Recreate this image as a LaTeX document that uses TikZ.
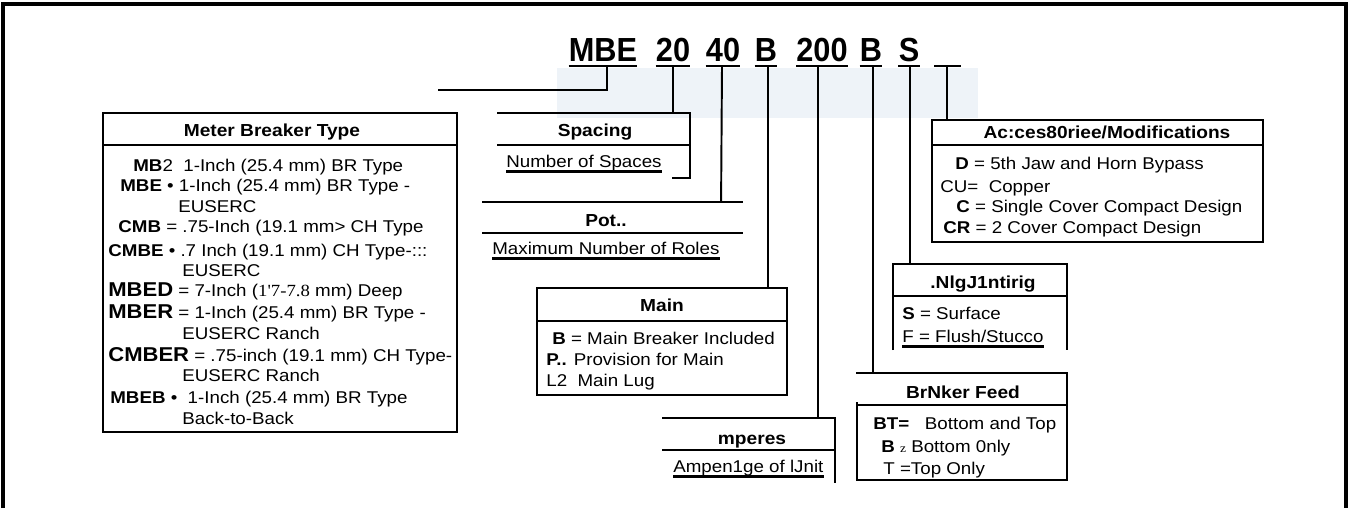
\documentclass[tikz,border=0pt]{standalone}
\usepackage{fontspec}
\setmainfont{Liberation Sans}[FakeStretch=1.1]
\setsansfont{Liberation Sans}[FakeStretch=1.1]
\newfontfamily\codefont{Liberation Sans}[FakeStretch=0.92]
\newfontfamily\serifbit{Liberation Serif}[FakeStretch=1.1]
\newcommand\bigkey[1]{{\fontsize{11.4}{12}\selectfont\bfseries #1}}
\definecolor{scanblue}{RGB}{238,243,248}

\begin{document}
\begin{tikzpicture}[x=0.02cm, y=-0.02cm,
		rule/.style={black, line width=1.3pt},
		lead/.style={black, line width=1.1pt},
		uline/.style={black, line width=1.7pt},
		code/.style={inner sep=0pt, anchor=base, font=\codefont\fontsize{19}{19}\selectfont\bfseries},
		head/.style={inner sep=0pt, anchor=base, font=\fontsize{9.9}{11}\selectfont\bfseries},
		entry/.style={inner sep=0pt, anchor=base west, font=\fontsize{9.7}{11}\selectfont}]
		\useasboundingbox (0,0) rectangle (1349,508);
		\fill[scanblue] (557,68) rectangle (978,118);
		\draw[black, line width=1.8pt] (3,508) -- (3,4) -- (1346,4) -- (1346,508);

		\node[code] (cMBE) at (603,61) {MBE};
		\node[code] (c20) at (673,61) {20};
		\node[code] (c40) at (723,61) {40};
		\node[code] (cMain) at (766,61) {B};
		\node[code] (c200) at (822,61) {200};
		\node[code] (cFeed) at (871,61) {B};
		\node[code] (cS) at (909,61) {S};
		\coordinate (cAcc) at (947,61);
		\foreach \c in {cMBE,c20,c40,cMain,c200,cFeed,cS}
			\draw[uline] ([shift={(0,5)}]\c.base west) -- ([shift={(0,5)}]\c.base east);
		\draw[uline] ([shift={(-13,5)}]cAcc) -- ([shift={(14,5)}]cAcc);

		\coordinate (mbtEnd) at (438,90);
		\coordinate (spcNE) at (690,113);
		\coordinate (potNE) at (743,202);
		\coordinate (mainNE) at (787,288);
		\coordinate (ampNE) at (835,418);
		\coordinate (feedNE) at (1067,373);
		\coordinate (mntNE) at (1067,264);
		\coordinate (accNE) at (1263,120);

		\draw[lead] ([shift={(4,5)}]cMBE.base) |- (mbtEnd);
		\draw[lead] ([shift={(0,5)}]c20.base) -- (c20.base |- spcNE);
		\draw[lead] ([shift={(-1,5)}]c40.base) -- ([xshift=-1\pgflinewidth]c40.base |- potNE);
		\draw[lead] ([shift={(2,5)}]cMain.base) -- ([shift={(2,0)}]cMain.base |- mainNE);
		\draw[lead] ([shift={(-4,5)}]c200.base) -- ([shift={(-4,0)}]c200.base |- ampNE);
		\draw[lead] ([shift={(2,5)}]cFeed.base) -- ([shift={(2,0)}]cFeed.base |- feedNE);
		\draw[lead] ([shift={(1,5)}]cS.base) -- ([shift={(1,0)}]cS.base |- mntNE);
		\draw[lead] ([shift={(0,5)}]cAcc) -- (cAcc |- accNE);

		% meter breaker type
		\draw[rule] (103,113) rectangle (457,432);
		\draw[rule] (103,145) -- (457,145);
		\node[head] (mbt) at (272,136) {Meter Breaker Type};
		\node[entry] (mb1) at (133,171) {\textbf{MB}2\ \ 1-Inch (25.4 mm) BR Type};
		\node[entry] (mb2) at (120,191) {\textbf{MBE} • 1-Inch (25.4 mm) BR Type -};
		\node[entry] (mb3) at (178,212) {EUSERC};
		\node[entry] (mb4) at (118,232) {\textbf{CMB} = .75-Inch (19.1 mm> CH Type};
		\node[entry] (mb5) at (108,256) {\textbf{CMBE} • .7 Inch (19.1 mm) CH Type-:::};
		\node[entry] (mb6) at (182,276) {EUSERC};
		\node[entry] (mb7) at (108,296) {\bigkey{MBED} = 7-Inch ({\serifbit 1'7-7.8} mm) Deep};
		\node[entry] (mb8) at (108,318) {\bigkey{MBER} = 1-Inch (25.4 mm) BR Type -};
		\node[entry] (mb9) at (182,339) {EUSERC Ranch};
		\node[entry] (mb10) at (108,361) {\bigkey{CMBER} = .75-inch (19.1 mm) CH Type-};
		\node[entry] (mb11) at (182,381) {EUSERC Ranch};
		\node[entry] (mb12) at (110,403) {\textbf{MBEB} •\ \ 1-Inch (25.4 mm) BR Type};
		\node[entry] (mb13) at (182,424) {Back-to-Back};

		% spacing and poles
		\draw[rule] (497,113) -- (spcNE) -- (690,178) -- (672,178);
		\draw[rule] (497,145) -- (690,145);
		\node[head] (spc) at (595,136) {Spacing};
		\node[entry] (spcTxt) at (506,167) {Number of Spaces};
		\draw[rule] (482,202) -- (potNE);
		\draw[rule] (482,233) -- (743,233);
		\node[head] (pot) at (606,226) {Pot..};
		\node[entry] (potTxt) at (492,254) {Maximum Number of Roles};

		% main
		\draw[rule] (537,288) rectangle (mainNE |- 0,395);
		\draw[rule] (537,321) -- (787,321);
		\node[head] (main) at (662,311) {Main};
		\node[entry] (mn1) at (552,344) {\textbf{B} =\ Main Breaker\ Included};
		\node[entry] (mn2) at (546,365) {\textbf{P..} Provision for Main};
		\node[entry] (mn3) at (546,386) {L2\ \ Main Lug};

		% amperes
		\draw[rule] (662,418) -- (ampNE) -- (835,483);
		\draw[rule] (662,450) -- (835,450);
		\node[head] (amp) at (752,444) {mperes};
		\node[entry] (ampTxt) at (673,472) {Ampen1ge of lJnit};

		% accessories
		\draw[rule] (932,120) rectangle (1263,242);
		\draw[rule] (932,145) -- (1263,145);
		\node[head] (acc) at (1107,138) {Ac:ces80riee/Modifications};
		\node[entry] (ac1) at (955,169) {\textbf{D} = 5th Jaw and Horn Bypass};
		\node[entry] (ac2) at (940,192) {CU=\ \ Copper};
		\node[entry] (ac3) at (956,212) {\textbf{C} = Single Cover Compact\ Design};
		\node[entry] (ac4) at (943,233) {\textbf{CR} =\ 2 Cover Compact Design};

		% mounting
		\draw[rule] (893,350) -- (893,264) -- (mntNE) -- (1067,350);
		\draw[rule] (893,296) -- (1067,296);
		\node[head] (mnt) at (983,288) {.NlgJ1ntirig};
		\node[entry] (mt1) at (902,319) {\textbf{S} = Surface};
		\node[entry] (mt2) at (902,342) {F = Flush/Stucco};

		% breaker feed
		\draw[rule] (856,373) -- (feedNE) -- (1067,480) -- (857,480) -- (857,402);
		\draw[rule] (857,405) -- (1067,405);
		\node[head] (feed) at (963,398) {BrNker Feed};
		\node[entry] (fd1) at (873,429) {\textbf{BT=}\ \ \ Bottom\ and Top};
		\node[entry] (fd2) at (881,452) {\textbf{B} {\serifbit\scriptsize z} Bottom 0nly};
		\node[entry] (fd3) at (883,474) {T =Top Only};

		\foreach \t in {spcTxt,potTxt,ampTxt,mt2}
			\draw[uline] ([shift={(0,4)}]\t.base west) -- ([shift={(0,4)}]\t.base east);
	\end{tikzpicture}
\end{document}
